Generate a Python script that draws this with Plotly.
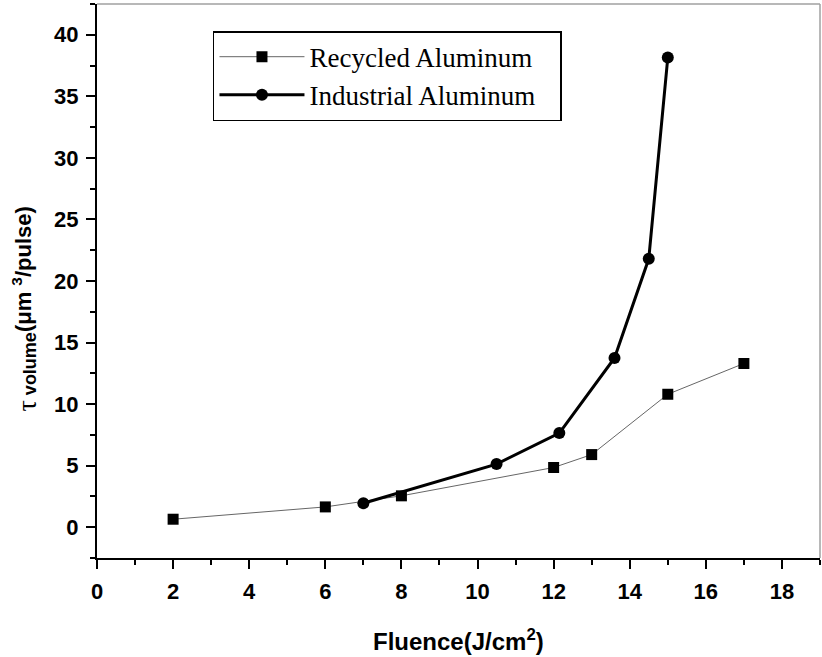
import plotly.graph_objects as go

# Data
recycled_fluence = [2, 6, 8, 12, 13, 15, 17]
recycled_volume = [0.65, 1.65, 2.55, 4.85, 5.9, 10.8, 13.3]

industrial_fluence = [7, 10.5, 12.15, 13.6, 14.5, 15]
industrial_volume = [1.95, 5.13, 7.65, 13.75, 21.8, 38.15]

x_tickvals = [0, 2, 4, 6, 8, 10, 12, 14, 16, 18]
y_tickvals = [0, 5, 10, 15, 20, 25, 30, 35, 40]

fig = go.Figure()
fig.add_trace(go.Scatter(
    x=recycled_fluence, y=recycled_volume, mode="lines+markers",
    name="Recycled Aluminum\u00a0\u00a0\u00a0",
    line=dict(color="#666666", width=1),
    marker=dict(symbol="square", size=11, color="black"),
))
fig.add_trace(go.Scatter(
    x=industrial_fluence, y=industrial_volume, mode="lines+markers",
    name="Industrial Aluminum\u00a0\u00a0\u00a0",
    line=dict(color="black", width=3),
    marker=dict(symbol="circle", size=12, color="black"),
))

axis_common = dict(
    showgrid=False, zeroline=False, showline=True, linecolor="black",
    linewidth=2, ticks="outside", ticklen=9, tickwidth=2, tickcolor="black",
    automargin=False,
)

fig.update_xaxes(
    range=[0, 19], tickvals=x_tickvals,
    tickfont=dict(family="Liberation Sans, Arial, sans-serif", size=22, color="black", weight="bold"),
    minor=dict(dtick=1, tick0=0, ticks="outside", ticklen=5, tickwidth=2, tickcolor="black"),
    ticklabelstandoff=4,
    **axis_common,
)
fig.update_yaxes(
    range=[-2.5, 42.5], tickvals=y_tickvals,
    tickfont=dict(family="Liberation Sans, Arial, sans-serif", size=22, color="black", weight="bold"),
    minor=dict(dtick=2.5, tick0=0, ticks="outside", ticklen=5, tickwidth=2, tickcolor="black"),
    ticklabelstandoff=3,
    **axis_common,
)

# Thin grey frame on top and right
fig.add_shape(type="line", xref="paper", yref="paper", x0=0, x1=1, y0=1, y1=1,
              line=dict(color="#a0a0a0", width=1.5))
fig.add_shape(type="line", xref="paper", yref="paper", x0=1, x1=1, y0=0, y1=1,
              line=dict(color="#a0a0a0", width=1.5))

fig.add_annotation(
    xref="paper", yref="paper", x=0.5, y=-0.178, xanchor="center", yanchor="bottom",
    text="Fluence(J/cm<sup>2</sup>)", showarrow=False,
    font=dict(family="Liberation Sans, Arial, sans-serif", size=24, color="black", weight="bold"),
)
fig.add_annotation(
    xref="paper", yref="paper", x=-0.1, y=0.45, xanchor="center", yanchor="middle",
    textangle=-90, showarrow=False,
    text=("<sub><span style='font-family:Liberation Serif;font-weight:normal;font-size:28px'>τ</span>"
          "<span style='font-size:18px'> volume</span></sub>(μm <sup>3</sup>/pulse)"),
    font=dict(family="Liberation Sans, Arial, sans-serif", size=22, color="black", weight="bold"),
)

fig.update_layout(
    template="none",
    width=822, height=657,
    margin=dict(l=97, r=2, t=4, b=99),
    paper_bgcolor="white", plot_bgcolor="white",
    showlegend=True,
    legend=dict(
        x=0.1604, y=0.951, xanchor="left", yanchor="top",
        bordercolor="black", borderwidth=1.5, bgcolor="white",
        font=dict(family="Liberation Serif, Times New Roman, serif", size=27, color="black"),
        itemwidth=85, tracegroupgap=0,
    ),
)

fig.write_html("out.html", config={"displayModeBar": False},
               post_script="document.body.style.margin='0';")
